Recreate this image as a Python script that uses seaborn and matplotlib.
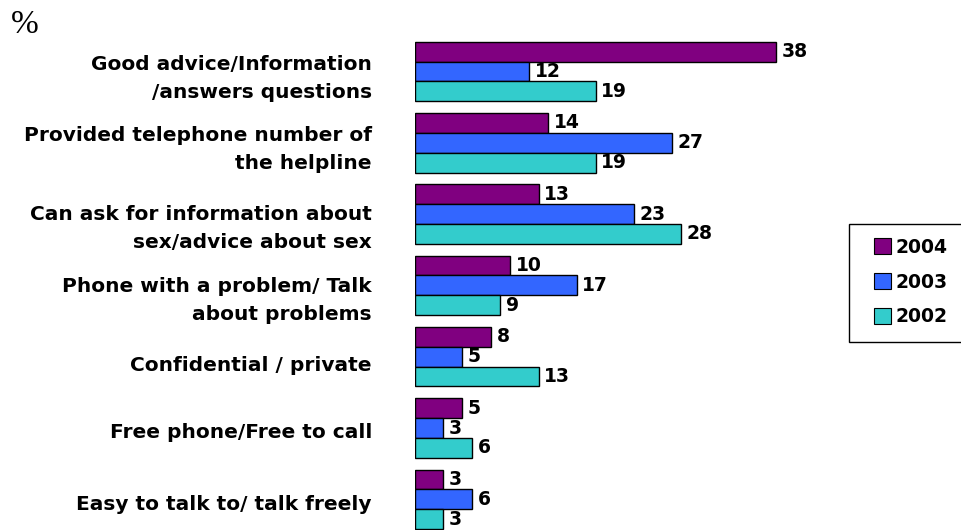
import matplotlib
matplotlib.use("Agg")
import matplotlib.pyplot as plt
import matplotlib.transforms as mtransforms
import seaborn as sns
import pandas as pd
from matplotlib.patches import Patch, Rectangle

categories = [
    "Good advice/Information\n/answers questions",
    "Provided telephone number of\nthe helpline",
    "Can ask for information about\nsex/advice about sex",
    "Phone with a problem/ Talk\nabout problems",
    "Confidential / private",
    "Free phone/Free to call",
    "Easy to talk to/ talk freely",
]
years = ["2004", "2003", "2002"]
values_2004 = [38, 14, 13, 10, 8, 5, 3]
values_2003 = [12, 27, 23, 17, 5, 3, 6]
values_2002 = [19, 19, 28, 9, 13, 6, 3]
colors = ["#800080", "#3366FF", "#33CCCC"]
# small per-label vertical nudges (px, downward) as in the original layout
label_nudge_px = [0, 0, 8, 9, 7, 2, 3]

rows = []
for yr, vals in zip(years, [values_2004, values_2003, values_2002]):
    for c, v in zip(categories, vals):
        rows.append({"category": c, "year": yr, "value": v})
df = pd.DataFrame(rows)

sns.set_style("white")
plt.rcParams["font.family"] = ["DejaVu Sans"]
plt.rcParams["text.color"] = "black"
plt.rcParams["ytick.color"] = "black"
plt.rcParams["ytick.labelcolor"] = "black"

W, H = 962, 530
fig = plt.figure(figsize=(W / 100, H / 100), dpi=100)
ax_left, ax_right = 415, 830
ax_top, ax_bot = 36, 530
ax = fig.add_axes([ax_left / W, 1 - ax_bot / H, (ax_right - ax_left) / W, (ax_bot - ax_top) / H])

sns.barplot(data=df, y="category", x="value", hue="year", hue_order=years,
            order=categories, palette=colors, saturation=1, orient="h", width=0.835,
            edgecolor="black", linewidth=1.0, ax=ax, legend=False)

step = 71.3
ax.set_xlim(0, (ax_right - ax_left) / 9.5)
ax.set_ylim(6 + (530 - (71.5 + 6 * step)) / step, -(71.5 - 36) / step)

for cont in ax.containers:
    ax.bar_label(cont, padding=4, fontsize=13.5, fontweight="bold", color="black")

ax.set_xlabel("")
ax.set_ylabel("")
ax.set_xticks([])
ax.tick_params(axis="y", length=0, pad=31)
for lbl, nudge in zip(ax.get_yticklabels(), label_nudge_px):
    lbl.set_fontweight("bold")
    lbl.set_fontsize(14.5)
    lbl.set_horizontalalignment("right")
    lbl.set_linespacing(1.6)
    lbl.set_color("black")
    lbl.set_transform(lbl.get_transform() +
                      mtransforms.ScaledTranslation(0, -nudge / 100, fig.dpi_scale_trans))
for s in ax.spines.values():
    s.set_visible(False)

fig.text(11 / W, 1 - 25 / H, "%", fontsize=24, family=["Liberation Serif", "DejaVu Serif"],
         va="center", ha="left")

# legend frame
fig.patches.append(Rectangle((849 / W, 1 - 342 / H), 130 / W, 118 / H, transform=fig.transFigure,
                             facecolor="white", edgecolor="black", linewidth=1.0, zorder=1))
handles = [Patch(facecolor=c, edgecolor="black", linewidth=0.8, label=y) for c, y in zip(colors, years)]
leg = fig.legend(handles=handles, loc="center left", bbox_to_anchor=(874 / W, 1 - 282 / H),
                 frameon=False, handlelength=0.9, handleheight=0.9,
                 handletextpad=0.25, labelspacing=0.85, borderpad=0, borderaxespad=0,
                 prop={"weight": "bold", "size": 13.5})
leg.set_zorder(3)

fig.savefig("out.png", dpi=100)
